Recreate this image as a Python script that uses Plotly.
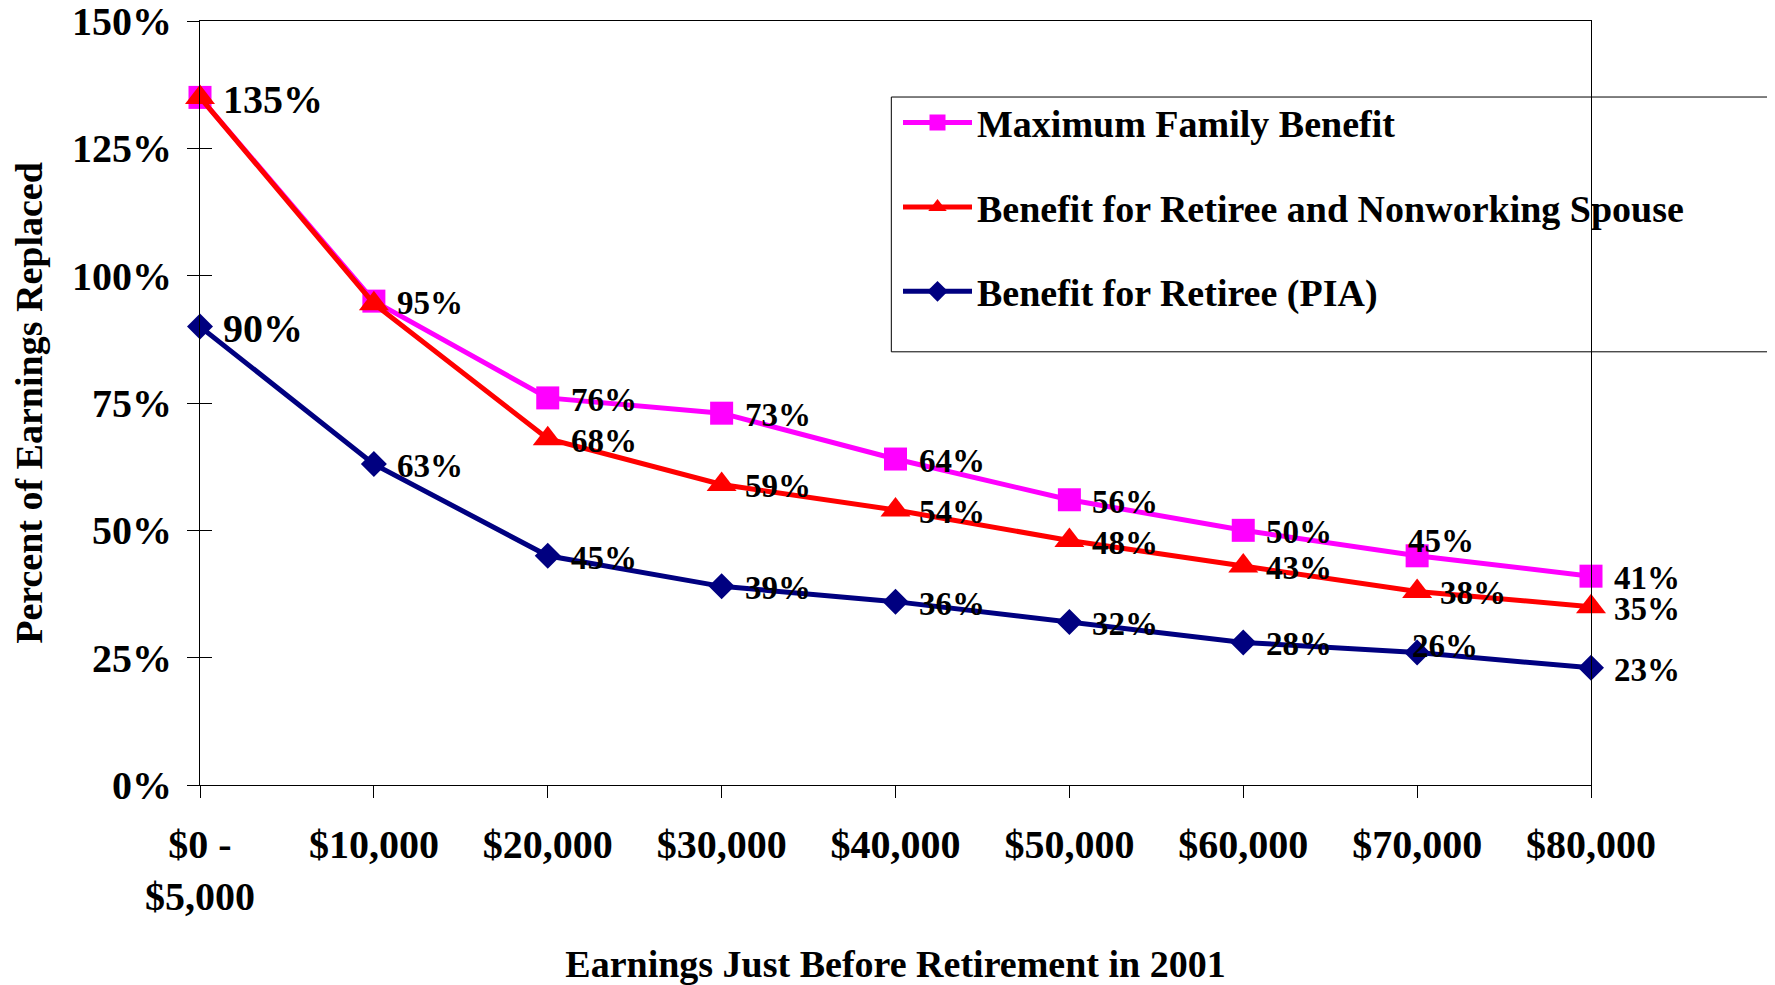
import plotly.graph_objects as go

categories = ["$0 -<br>$5,000", "$10,000", "$20,000", "$30,000", "$40,000",
              "$50,000", "$60,000", "$70,000", "$80,000"]
max_family = [135, 95, 76, 73, 64, 56, 50, 45, 41]
spouse = [135, 94.5, 68, 59, 54, 48, 43, 38, 35]
pia = [90, 63, 45, 39, 36, 32, 28, 26, 23]

max_family_labels = ["135%", "95%", "76%", "73%", "64%", "56%", "50%", "45%", "41%"]
spouse_labels = ["", "", "68%", "59%", "54%", "48%", "43%", "38%", "35%"]
pia_labels = ["90%", "63%", "45%", "39%", "36%", "32%", "28%", "26%", "23%"]

y_ticks = [0, 25, 50, 75, 100, 125, 150]
y_tick_text = ["0%", "25%", "50%", "75%", "100%", "125%", "150%"]

FONT = "Liberation Serif, Times New Roman, serif"
BIG = 40
SMALL = 33

# label offsets (px) relative to the point; default is right of the marker
DEFAULT_SHIFT = (21, -2)
special = {("max", 7): (-11, 15), ("pia", 7): (-7, 7)}
big_labels = {("max", 0), ("pia", 0)}

fig = go.Figure()

fig.add_trace(go.Scatter(
    x=categories, y=max_family, name="Maximum Family Benefit", legendgroup="a",
    mode="lines+markers",
    line=dict(color="#FF00FF", width=5),
    marker=dict(symbol="square", size=23, color="#FF00FF"),
    cliponaxis=False,
))
fig.add_trace(go.Scatter(
    x=categories, y=spouse, name="Benefit for Retiree and Nonworking Spouse", legendgroup="b",
    mode="lines+markers",
    line=dict(color="#FF0000", width=5),
    marker=dict(symbol="triangle-up", size=26, color="#FF0000"),
    cliponaxis=False,
))
fig.add_trace(go.Scatter(
    x=categories, y=pia, name="Benefit for Retiree (PIA)", legendgroup="c",
    mode="lines+markers",
    line=dict(color="#000080", width=5),
    marker=dict(symbol="diamond", size=20, color="#000080"),
    cliponaxis=False,
))
# invisible trace on overlay axis for inside ticks
fig.add_trace(go.Scatter(x=[None], y=[None], yaxis="y2", showlegend=False, hoverinfo="skip"))

series = {"max": (max_family, max_family_labels),
          "sp": (spouse, spouse_labels),
          "pia": (pia, pia_labels)}
annotations = []
for key, (vals, labs) in series.items():
    for i, (v, t) in enumerate(zip(vals, labs)):
        if not t:
            continue
        dx, dy = special.get((key, i), DEFAULT_SHIFT)
        annotations.append(dict(
            x=categories[i], y=v, xref="x", yref="y", text=t, showarrow=False,
            xanchor="left", yanchor="middle", xshift=dx, yshift=dy,
            font=dict(size=BIG if (key, i) in big_labels else SMALL,
                      family=FONT, color="black", weight="bold"),
        ))

fig.update_layout(
    width=1767, height=977,
    margin=dict(l=192, r=184, t=13, b=200, autoexpand=False),
    paper_bgcolor="white", plot_bgcolor="white",
    font=dict(family=FONT, size=BIG, color="black", weight="bold"),
    showlegend=True,
    legend=dict(
        x=0.5018, y=0.908, xanchor="left", yanchor="top", itemwidth=69,
        font=dict(size=38, family=FONT, color="black", weight="bold"),
        tracegroupgap=32, bgcolor="rgba(0,0,0,0)", borderwidth=0,
    ),
    annotations=annotations,
    xaxis=dict(
        type="category", range=[0, 8], showgrid=False, zeroline=False, automargin=False,
        showline=True, linecolor="black", linewidth=1, mirror=True,
        ticks="outside", ticklen=12, tickcolor="black", ticklabeloverflow="allow",
        tickfont=dict(size=BIG), ticklabelstandoff=12,
        title=dict(text="Earnings Just Before Retirement in 2001", font=dict(size=38), standoff=42),
    ),
    yaxis=dict(
        range=[0, 150], tickvals=y_ticks, ticktext=y_tick_text, showgrid=False, zeroline=False,
        automargin=False, ticklabeloverflow="allow",
        showline=True, linecolor="black", linewidth=1, mirror=True,
        ticks="outside", ticklen=12, tickcolor="black",
        tickfont=dict(size=BIG), ticklabelstandoff=7,
        title=dict(text="Percent of Earnings Replaced", font=dict(size=38), standoff=18),
    ),
    yaxis2=dict(
        range=[0, 150], tickvals=y_ticks, overlaying="y", side="left", showticklabels=False,
        showgrid=False, zeroline=False, showline=False, automargin=False,
        ticks="inside", ticklen=12, tickcolor="black",
    ),
    shapes=[dict(type="rect", xref="paper", yref="paper",
                 x0=0.497, x1=1.14, y0=0.567, y1=0.9005,
                 line=dict(color="black", width=1), fillcolor="rgba(0,0,0,0)")],
)

fig.write_html("out.html")
